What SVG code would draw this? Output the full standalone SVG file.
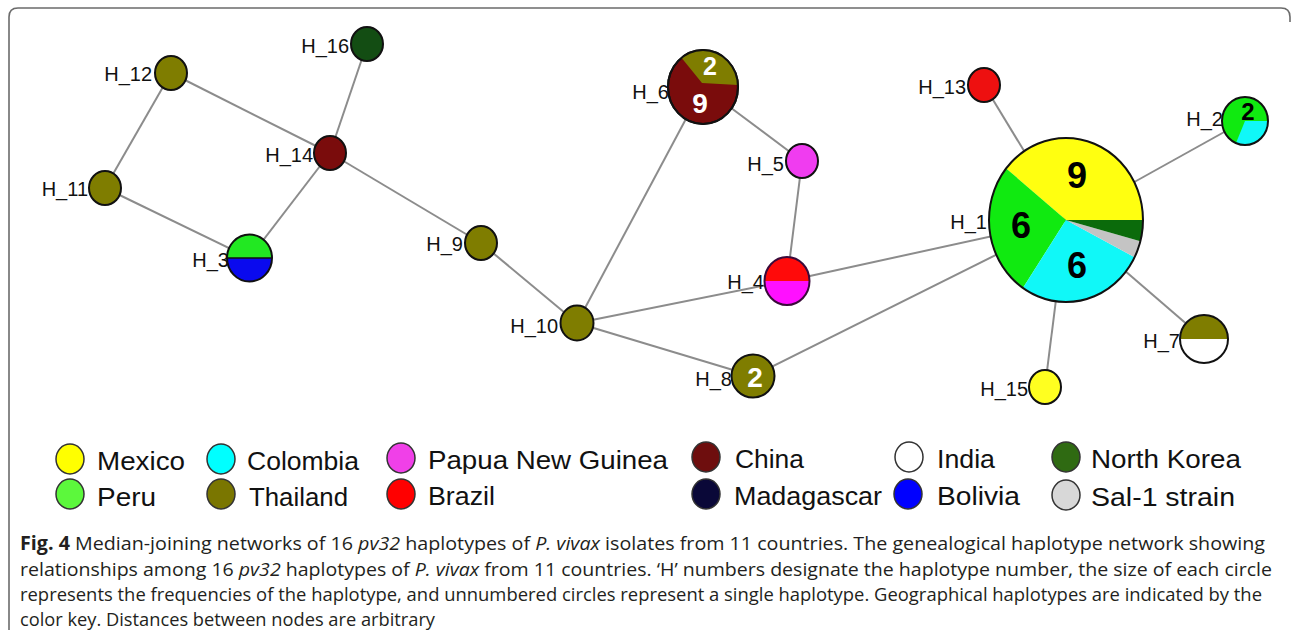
<svg xmlns="http://www.w3.org/2000/svg" width="1293" height="632" viewBox="0 0 1293 632">
<style>
.bg{fill:#ffffff}
.frame{fill:none;stroke:#6b6b6b;stroke-width:1.6}
.edge{stroke:#8c8c8c;stroke-width:2;fill:none}
.nd{stroke:#111;stroke-width:2}
.ol{stroke:none}
.lbl{font-family:"Liberation Sans",Arial,sans-serif;font-size:20px;fill:#111;text-anchor:end}
.numw{font-family:"Liberation Sans",Arial,sans-serif;font-weight:bold;fill:#fff;text-anchor:middle}
.numb{font-family:"Liberation Sans",Arial,sans-serif;font-weight:bold;fill:#000;text-anchor:middle}
.lg{stroke:#333;stroke-width:1.5}
.lgt{font-family:"Liberation Sans",Arial,sans-serif;font-size:25px;fill:#111}
.cap{font-family:"Open Sans","Noto Sans",sans-serif;font-size:19px;fill:#231f20}
.olive{fill:#7f7d00}
.china{fill:#7a0c0c}
</style>
<rect class="bg" x="0" y="0" width="1293" height="632"/>
<path class="frame" d="M9 630 L9 17 Q9 8 18 8 L1281 8 Q1290 8 1290 17 L1290 22"/>

<g id="connectors">
<line class="edge" x1="171" y1="73" x2="330" y2="153"/>
<line class="edge" x1="171" y1="73" x2="105" y2="188"/>
<line class="edge" x1="105" y1="188" x2="249.5" y2="258"/>
<line class="edge" x1="249.5" y1="258" x2="330" y2="153"/>
<line class="edge" x1="367" y1="44" x2="330" y2="153"/>
<line class="edge" x1="330" y1="153" x2="481" y2="243"/>
<line class="edge" x1="481" y1="243" x2="577" y2="323"/>
<line class="edge" x1="577" y1="323" x2="703" y2="87"/>
<line class="edge" x1="577" y1="323" x2="787" y2="281"/>
<line class="edge" x1="577" y1="323" x2="753" y2="376"/>
<line class="edge" x1="703" y1="87" x2="802" y2="161"/>
<line class="edge" x1="802" y1="161" x2="787" y2="281"/>
<line class="edge" x1="787" y1="281" x2="1066" y2="220"/>
<line class="edge" x1="753" y1="376" x2="1066" y2="220"/>
<line class="edge" x1="984" y1="85" x2="1066" y2="220"/>
<line class="edge" x1="1244" y1="121" x2="1066" y2="220"/>
<line class="edge" x1="1204" y1="339" x2="1066" y2="220"/>
<line class="edge" x1="1045" y1="387" x2="1066" y2="220"/>
</g>

<g id="H_16">
<ellipse class="nd" cx="367" cy="44" rx="16" ry="17" fill="#134d13"/>
<text class="lbl" x="349" y="53">H_16</text>
</g>
<g id="H_12">
<ellipse class="nd olive" cx="171" cy="73" rx="16" ry="17"/>
<text class="lbl" x="152" y="81">H_12</text>
</g>
<g id="H_14">
<ellipse class="nd china" cx="330" cy="153" rx="16" ry="17"/>
<text class="lbl" x="313" y="162">H_14</text>
</g>
<g id="H_11">
<ellipse class="nd olive" cx="105" cy="188" rx="16" ry="17"/>
<text class="lbl" x="88" y="196">H_11</text>
</g>
<g id="H_3">
<path class="ol" d="M227 258 A22.5 23.5 0 0 1 272 258 Z" fill="#22e822"/>
<path class="ol" d="M272 258 A22.5 23.5 0 0 1 227 258 Z" fill="#0a0aee"/>
<line x1="227" y1="258" x2="272" y2="258" stroke="#111" stroke-width="1.5"/>
<ellipse class="nd" cx="249.5" cy="258" rx="22.5" ry="23.5" fill="none"/>
<text class="lbl" x="229" y="267">H_3</text>
</g>
<g id="H_9">
<ellipse class="nd olive" cx="481" cy="243" rx="16" ry="17"/>
<text class="lbl" x="463" y="251">H_9</text>
</g>
<g id="H_10">
<ellipse class="nd olive" cx="577" cy="323" rx="16.5" ry="17.5"/>
<text class="lbl" x="558" y="333">H_10</text>
</g>
<g id="H_6">
<ellipse class="nd china" cx="703" cy="87" rx="35" ry="37"/>
<path class="ol" d="M702 83 L737.9 85 A35 37 0 0 0 681.5 57.8 Z" fill="#7f7d00"/>
<ellipse class="nd" cx="703" cy="87" rx="35" ry="37" fill="none"/>
<text class="numw" x="710" y="75" font-size="25">2</text>
<text class="numw" x="700" y="113" font-size="28">9</text>
<text class="lbl" x="669" y="99">H_6</text>
</g>
<g id="H_5">
<ellipse class="nd" cx="802" cy="161" rx="16" ry="17" fill="#f03cf0"/>
<text class="lbl" x="784" y="171">H_5</text>
</g>
<g id="H_4">
<path class="ol" d="M764.5 281 A22.5 24 0 0 1 809.5 281 Z" fill="#ff0a0a"/>
<path class="ol" d="M809.5 281 A22.5 24 0 0 1 764.5 281 Z" fill="#ff10ff"/>
<ellipse cx="787" cy="281" rx="22.5" ry="24" fill="none" stroke="#3a0a3a" stroke-width="2"/>
<text class="lbl" x="764" y="289">H_4</text>
</g>
<g id="H_8">
<ellipse class="nd olive" cx="753" cy="376" rx="21.5" ry="21.5"/>
<text class="numw" x="755" y="387" font-size="28">2</text>
<text class="lbl" x="732" y="386">H_8</text>
</g>
<g id="H_13">
<ellipse class="nd" cx="984" cy="85" rx="16" ry="17" fill="#ee1010"/>
<text class="lbl" x="966" y="94">H_13</text>
</g>
<g id="H_1">
<path class="ol" d="M1066 220 L1143 220 A77 82 0 0 0 1006.16 168.4 Z" fill="#ffff10"/>
<path class="ol" d="M1066 220 L1006.16 168.4 A77 82 0 0 0 1022.94 287.98 Z" fill="#10ea10"/>
<path class="ol" d="M1066 220 L1022.94 287.98 A77 82 0 0 0 1134.61 257.23 Z" fill="#10f8f8"/>
<path class="ol" d="M1066 220 L1134.61 257.23 A77 82 0 0 0 1140.38 241.22 Z" fill="#c4c4c4"/>
<path class="ol" d="M1066 220 L1140.38 241.22 A77 82 0 0 0 1143 220 Z" fill="#0b6b0b"/>
<ellipse class="nd" cx="1066" cy="220" rx="77" ry="82" fill="none"/>
<text class="numb" x="1077" y="188" font-size="36">9</text>
<text class="numb" x="1021" y="238" font-size="36">6</text>
<text class="numb" x="1077" y="278" font-size="36">6</text>
<text class="lbl" x="987" y="229">H_1</text>
</g>
<g id="H_2">
<ellipse class="ol" cx="1245" cy="121" rx="23" ry="24" fill="#10ea10"/>
<path class="ol" d="M1245 121 L1236 143.1 A23 24 0 0 0 1268 121 Z" fill="#10f8f8"/>
<ellipse class="nd" cx="1245" cy="121" rx="23" ry="24" fill="none"/>
<text class="numb" x="1248" y="120" font-size="24">2</text>
<text class="lbl" x="1223" y="126">H_2</text>
</g>
<g id="H_7">
<path class="ol" d="M1180 339 A24 24 0 0 1 1228 339 Z" fill="#7f7d00"/>
<path class="ol" d="M1228 339 A24 24 0 0 1 1180 339 Z" fill="#ffffff"/>
<ellipse class="nd" cx="1204" cy="339" rx="24" ry="24" fill="none"/>
<text class="lbl" x="1180" y="348">H_7</text>
</g>
<g id="H_15">
<ellipse class="nd" cx="1045" cy="387" rx="16" ry="17" fill="#ffff20"/>
<text class="lbl" x="1028" y="396">H_15</text>
</g>

<g id="legend">
<ellipse class="lg" cx="70" cy="459" rx="14" ry="15" fill="#ffff00"/>
<text class="lgt" x="97" y="470" textLength="88" lengthAdjust="spacingAndGlyphs">Mexico</text>
<ellipse class="lg" cx="221" cy="459" rx="14" ry="15" fill="#00ffff"/>
<text class="lgt" x="247" y="470" textLength="112" lengthAdjust="spacingAndGlyphs">Colombia</text>
<ellipse class="lg" cx="401" cy="458" rx="14" ry="15" fill="#f040e8"/>
<text class="lgt" x="428" y="469" textLength="240" lengthAdjust="spacingAndGlyphs">Papua New Guinea</text>
<ellipse class="lg" cx="706" cy="457" rx="14" ry="15" fill="#6e0e0e"/>
<text class="lgt" x="735" y="468" textLength="69" lengthAdjust="spacingAndGlyphs">China</text>
<ellipse class="lg" cx="909" cy="457" rx="14" ry="15" fill="#ffffff"/>
<text class="lgt" x="937" y="468" textLength="58" lengthAdjust="spacingAndGlyphs">India</text>
<ellipse class="lg" cx="1066" cy="457" rx="14" ry="15" fill="#2f6a12"/>
<text class="lgt" x="1091" y="468" textLength="150" lengthAdjust="spacingAndGlyphs">North Korea</text>

<ellipse class="lg" cx="70" cy="494" rx="14" ry="15" fill="#5cf83c"/>
<text class="lgt" x="97" y="506" textLength="59" lengthAdjust="spacingAndGlyphs">Peru</text>
<ellipse class="lg" cx="221" cy="494" rx="14" ry="15" fill="#7a7600"/>
<text class="lgt" x="249" y="506" textLength="99" lengthAdjust="spacingAndGlyphs">Thailand</text>
<ellipse class="lg" cx="401" cy="494" rx="14" ry="15" fill="#ff0000"/>
<text class="lgt" x="428" y="505" textLength="67" lengthAdjust="spacingAndGlyphs">Brazil</text>
<ellipse class="lg" cx="706" cy="494" rx="14" ry="15" fill="#0a0838"/>
<text class="lgt" x="734" y="505" textLength="148" lengthAdjust="spacingAndGlyphs">Madagascar</text>
<ellipse class="lg" cx="908" cy="494" rx="14" ry="15" fill="#0000ff"/>
<text class="lgt" x="937" y="505" textLength="83" lengthAdjust="spacingAndGlyphs">Bolivia</text>
<ellipse class="lg" cx="1066" cy="495" rx="14" ry="15" fill="#d8d8d8"/>
<text class="lgt" x="1091" y="506" textLength="144" lengthAdjust="spacingAndGlyphs">Sal-1 strain</text>
</g>

<g id="caption">
<text class="cap" x="20" y="550" textLength="1245" lengthAdjust="spacingAndGlyphs"><tspan font-weight="bold">Fig. 4</tspan>  Median-joining networks of 16 <tspan font-style="italic">pv32</tspan> haplotypes of <tspan font-style="italic">P. vivax</tspan> isolates from 11 countries. The genealogical haplotype network showing</text>
<text class="cap" x="20" y="576" textLength="1252" lengthAdjust="spacingAndGlyphs">relationships among 16 <tspan font-style="italic">pv32</tspan> haplotypes of <tspan font-style="italic">P. vivax</tspan> from 11 countries. ‘H’ numbers designate the haplotype number, the size of each circle</text>
<text class="cap" x="20" y="601" textLength="1242" lengthAdjust="spacingAndGlyphs">represents the frequencies of the haplotype, and unnumbered circles represent a single haplotype. Geographical haplotypes are indicated by the</text>
<text class="cap" x="20" y="626" textLength="415" lengthAdjust="spacingAndGlyphs">color key. Distances between nodes are arbitrary</text>
</g>
</svg>
